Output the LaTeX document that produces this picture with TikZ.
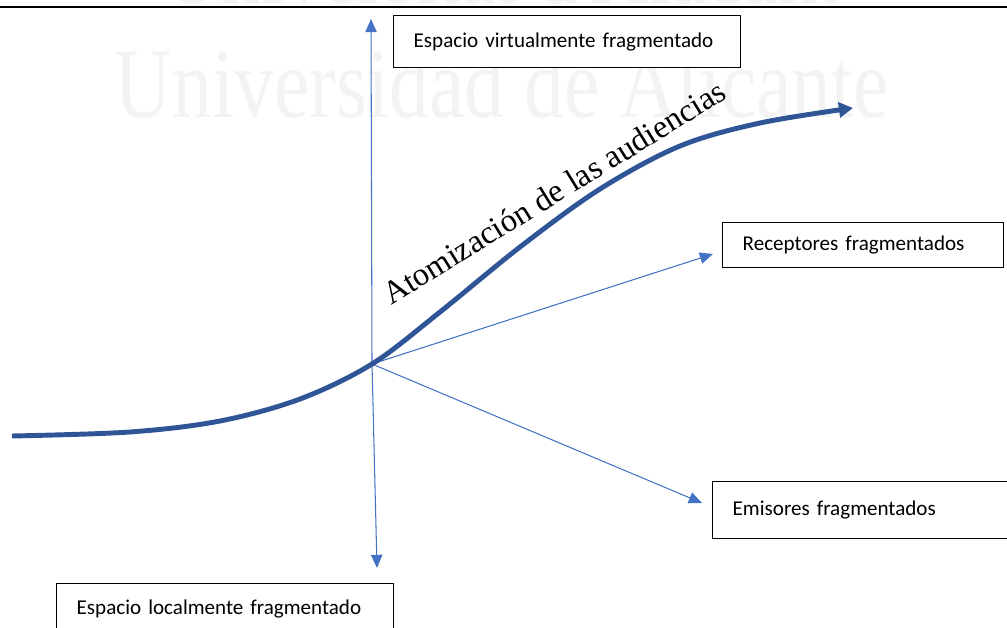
\documentclass[tikz,border=0pt]{standalone}
\usepackage{fontspec}
\usetikzlibrary{arrows.meta}
\newfontfamily\boxfont{Carlito}
\newfontfamily\seriffont{Liberation Serif}
\definecolor{audBlue}{HTML}{4472C4}
\definecolor{audDark}{HTML}{2F5597}
\definecolor{audMark}{HTML}{F3F3F3}
\tikzset{
  audbox/.style={draw=black,line width=0.8pt,fill=white,anchor=north west,
                 align=left,inner xsep=0.4cm,inner ysep=0pt,
                 font=\boxfont\fontsize{12}{14}\selectfont},
  audarrow/.style={-{Triangle[length=7.5pt,width=6.5pt]},line width=0.6pt,audBlue},
  audcurve/.style={-{Triangle[length=8pt,width=8.5pt]},line width=2.8pt,audDark},
  audlabel/.style={inner sep=0pt,font=\seriffont\fontsize{18.5}{20}\selectfont},
  audmark/.style={text=audMark,inner sep=0pt,anchor=base,
                  font=\seriffont\fontsize{56.7}{60}\selectfont}
}

\begin{document}
\begin{tikzpicture}[x=0.02cm,y=-0.02cm]
  \useasboundingbox (0,0) rectangle (1007,628);
  \clip (0,0) rectangle (1007,628);

  % background watermark and header rule
  \node[audmark] (mark1) at (502,4) {\scalebox{0.8}[1]{Universitat d'Alacant}};
  \node[audmark] (mark2) at (502,118) {\scalebox{0.8}[1]{Universidad de Alicante}};
  \draw[line width=1.4pt] (0,7) -- (1007,7);

  % boxes
  \node[audbox,text width=6.14cm,minimum height=1.04cm] (virt)
    at (393,15) {Espacio virtualmente fragmentado};
  \node[audbox,text width=4.82cm,minimum height=0.9cm] (recep)
    at (722,222) {Receptores fragmentados};
  \node[audbox,text width=5.2cm,minimum height=1.14cm] (emis)
    at (712,481) {Emisores fragmentados};
  \node[audbox,text width=5.94cm,minimum height=1.0cm] (local)
    at (56,583) {Espacio localmente fragmentado};

  % axes from the crossing point
  \coordinate (o) at (372,364);
  \coordinate (upEnd) at (371,19);
  \coordinate (downEnd) at (377,568);
  \coordinate (recEnd) at (713,254);
  \coordinate (emiEnd) at (702,503);
  \draw[audarrow] (o) -- (upEnd);
  \draw[audarrow] (o) -- (downEnd);
  \draw[audarrow] (o) -- (recEnd);
  \draw[audarrow] (o) -- (emiEnd);

  % growth curve
  \draw[audcurve] plot[smooth,tension=0.55] coordinates {
    (12,436) (130,432) (220,421) (300,399) (o) (440,312) (520,247)
    (600,189) (680,146) (760,123) (853,108)};
  \node[audlabel,anchor=base west,rotate=31.7] (atom) at (391,306)
    {Atomización de las audiencias};
\end{tikzpicture}
\end{document}
